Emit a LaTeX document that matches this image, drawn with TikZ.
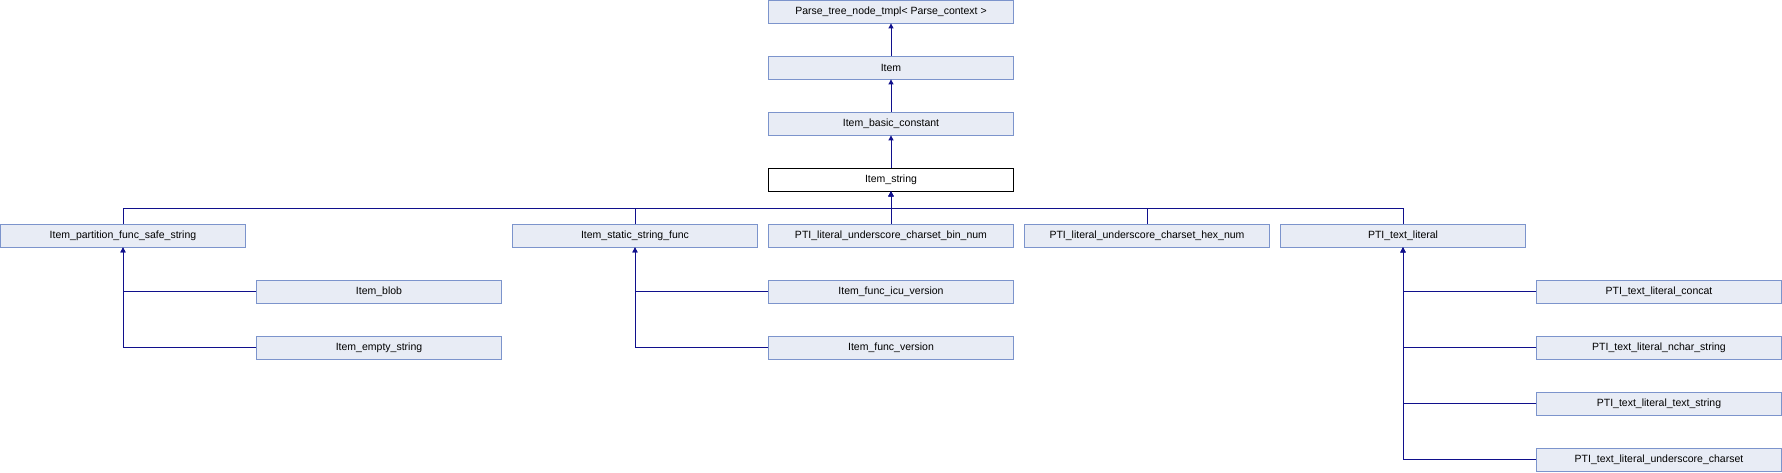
\documentclass[tikz,border=0pt]{standalone}
\usepackage{fontspec}
\setmainfont{Liberation Sans}
\usetikzlibrary{arrows.meta}
\definecolor{boxfill}{RGB}{232,236,245}
\definecolor{boxline}{RGB}{124,148,204}
\definecolor{edgeblue}{RGB}{16,16,140}

\tikzset{
  cls/.style={draw=boxline, fill=boxfill, line width=0.8pt, minimum width=245pt, minimum height=23pt, inner sep=0pt, font=\fontsize{10.5}{12}\selectfont},
  current/.style={cls, draw=black, fill=white},
  inh/.style={draw=edgeblue, line width=0.9pt, -{Triangle[length=5pt,width=5pt]}}
}

\begin{document}
\begin{tikzpicture}[x=1pt, y=-1pt]
\useasboundingbox (0,0) rectangle (1782,472);

% Chain of bases
\node[cls] (ptn) at (891,11.5) {Parse\_tree\_node\_tmpl< Parse\_context >};
\node[cls] (item) at (891,67.5) {Item};
\node[cls] (ibc) at (891,123.5) {Item\_basic\_constant};
\node[current] (istr) at (891,179.5) {Item\_string};

% Direct subclasses
\node[cls] (ipf) at (123,235.5) {Item\_partition\_func\_safe\_string};
\node[cls] (issf) at (635,235.5) {Item\_static\_string\_func};
\node[cls] (bin) at (891,235.5) {PTI\_literal\_underscore\_charset\_bin\_num};
\node[cls] (hex) at (1147,235.5) {PTI\_literal\_underscore\_charset\_hex\_num};
\node[cls] (ptl) at (1403,235.5) {PTI\_text\_literal};

% Further subclasses
\node[cls] (blob) at (379,291.5) {Item\_blob};
\node[cls] (empty) at (379,347.5) {Item\_empty\_string};
\node[cls] (icu) at (891,291.5) {Item\_func\_icu\_version};
\node[cls] (fver) at (891,347.5) {Item\_func\_version};
\node[cls] (concat) at (1659,291.5) {PTI\_text\_literal\_concat};
\node[cls] (nchar) at (1659,347.5) {PTI\_text\_literal\_nchar\_string};
\node[cls] (tstr) at (1659,403.5) {PTI\_text\_literal\_text\_string};
\node[cls] (uchar) at (1659,459.5) {PTI\_text\_literal\_underscore\_charset};

\coordinate (bus) at (891,208);

% Inheritance arrows
\draw[inh] (item) -- (ptn);
\draw[inh] (ibc) -- (item);
\draw[inh] (istr) -- (ibc);
\draw[inh] (ipf.north) |- (bus) -- (istr.south);
\draw[inh] (issf.north) |- (bus) -- (istr.south);
\draw[inh] (bin.north) -- (istr.south);
\draw[inh] (hex.north) |- (bus) -- (istr.south);
\draw[inh] (ptl.north) |- (bus) -- (istr.south);
\draw[inh] (blob.west) -| (ipf.south);
\draw[inh] (empty.west) -| (ipf.south);
\draw[inh] (icu.west) -| (issf.south);
\draw[inh] (fver.west) -| (issf.south);
\draw[inh] (concat.west) -| (ptl.south);
\draw[inh] (nchar.west) -| (ptl.south);
\draw[inh] (tstr.west) -| (ptl.south);
\draw[inh] (uchar.west) -| (ptl.south);
\end{tikzpicture}
\end{document}
